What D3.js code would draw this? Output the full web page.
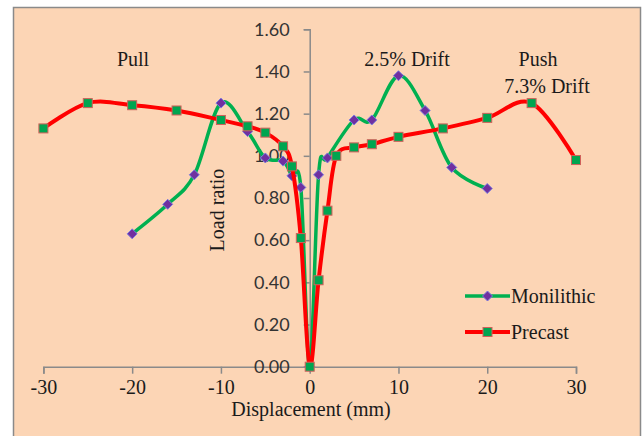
<!DOCTYPE html>
<html>
<head>
<meta charset="utf-8">
<script src="https://cdn.jsdelivr.net/npm/d3@7"></script>
<style>
  html, body { margin: 0; padding: 0; background: #ffffff; }
  svg { display: block; }
</style>
</head>
<body>
<svg id="chart" width="643" height="436"></svg>
<script>
// Load ratio vs displacement for the two specimens
const monoX = [-20, -16, -13, -10, -7, -5, -3, -2, -1, 0, 1, 2, 5, 7, 10, 13, 16, 20];
const monoY = [0.63, 0.77, 0.91, 1.25, 1.115, 0.99, 0.975, 0.905, 0.85, 0.00, 0.91, 0.99, 1.17, 1.17, 1.38, 1.215, 0.945, 0.845];

const precastX = [-30, -25, -20, -15, -10, -7, -5, -3, -2, -1, 0, 1, 2, 3, 5, 7, 10, 15, 20, 25, 30];
const precastY = [1.13, 1.25, 1.24, 1.215, 1.17, 1.14, 1.11, 1.045, 0.95, 0.61, 0.00, 0.41, 0.74, 1.00, 1.04, 1.055, 1.09, 1.13, 1.18, 1.25, 0.98];

const xTicks = [-30, -20, -10, 0, 10, 20, 30];
const yTicks = [0, 0.2, 0.4, 0.6, 0.8, 1.0, 1.2, 1.4, 1.6];

const seriesNames = ["Monilithic", "Precast"];
const annotations = [
  { text: "Pull", x: 133, y: 66 },
  { text: "2.5% Drift", x: 407, y: 66 },
  { text: "Push", x: 538, y: 66 },
  { text: "7.3% Drift", x: 547, y: 93 }
];

const svg = d3.select("#chart");
const serif = "'Liberation Serif', 'Times New Roman', serif";
const sans = "Lato, 'Liberation Sans', sans-serif";

// chart area
svg.append("rect")
  .attr("x", 13.5).attr("y", 7.5)
  .attr("width", 627).attr("height", 440)
  .attr("fill", "#fcd5b5")
  .attr("stroke", "#8a8a8a").attr("stroke-width", 1.5);

const x = d3.scaleLinear().domain([-30, 30]).range([43.4, 576]);
const y = d3.scaleLinear().domain([0, 1.6]).range([366.7, 29.3]);

// x axis along load ratio = 0 (plain hyphen for negatives)
const xAxis = svg.append("g")
  .attr("transform", `translate(0,${y(0)})`)
  .call(d3.axisBottom(x).tickValues(xTicks).tickSize(7).tickPadding(6).tickFormat(d => String(d)));
xAxis.select(".domain").attr("stroke", "#8a8a8a").attr("stroke-width", 1.5);
xAxis.selectAll(".tick line").attr("stroke", "#8a8a8a").attr("stroke-width", 1.5);
xAxis.selectAll(".tick text")
  .attr("font-family", serif).attr("font-size", 20).attr("fill", "#1a1a1a");

// y axis along displacement = 0
const yAxis = svg.append("g")
  .attr("transform", `translate(${x(0)},0)`)
  .call(d3.axisLeft(y).tickValues(yTicks).tickSize(6).tickPadding(14).tickFormat(d => d.toFixed(2)));
yAxis.select(".domain").attr("stroke", "#8a8a8a").attr("stroke-width", 1.5);
yAxis.selectAll(".tick line").attr("stroke", "#8a8a8a").attr("stroke-width", 1.5);
yAxis.selectAll(".tick text")
  .attr("font-family", sans).attr("font-size", 18).attr("fill", "#333");

// axis titles
svg.append("text")
  .attr("x", 311).attr("y", 416)
  .attr("text-anchor", "middle")
  .attr("font-family", serif).attr("font-size", 20).attr("fill", "#1a1a1a")
  .text("Displacement (mm)");
svg.append("text")
  .attr("transform", "translate(224,210) rotate(-90)")
  .attr("text-anchor", "middle")
  .attr("font-family", serif).attr("font-size", 20).attr("fill", "#1a1a1a")
  .text("Load ratio");

// annotations
svg.selectAll(".note").data(annotations).enter().append("text")
  .attr("class", "note")
  .attr("x", d => d.x).attr("y", d => d.y)
  .attr("text-anchor", "middle")
  .attr("font-family", serif).attr("font-size", 20).attr("fill", "#1a1a1a")
  .text(d => d.text);

const line = d3.line()
  .x(d => x(d[0]))
  .y(d => y(d[1]))
  .curve(d3.curveCardinal.tension(0));

const monoPts = monoX.map((v, i) => [v, monoY[i]]);
const precastPts = precastX.map((v, i) => [v, precastY[i]]);

const diamond = (cx, cy, r) => `M${cx},${cy - r}L${cx + r},${cy}L${cx},${cy + r}L${cx - r},${cy}Z`;

function drawDiamond(g, cx, cy) {
  g.append("path")
    .attr("d", diamond(cx, cy, 5))
    .attr("fill", "#7030a0")
    .attr("stroke", "#7b7be0").attr("stroke-width", 1);
}
function drawSquare(g, cx, cy) {
  g.append("rect")
    .attr("x", cx - 4.5).attr("y", cy - 4.5)
    .attr("width", 9).attr("height", 9)
    .attr("fill", "#00a550")
    .attr("stroke", "#d0605a").attr("stroke-width", 1);
}

// Monolithic series
const gMono = svg.append("g");
gMono.append("path")
  .attr("d", line(monoPts))
  .attr("fill", "none").attr("stroke", "#00b050").attr("stroke-width", 3.5)
  .attr("stroke-linejoin", "round");
monoPts.forEach(p => drawDiamond(gMono, x(p[0]), y(p[1])));

// Precast series
const gPre = svg.append("g");
gPre.append("path")
  .attr("d", line(precastPts))
  .attr("fill", "none").attr("stroke", "#ff0000").attr("stroke-width", 4)
  .attr("stroke-linejoin", "round");
precastPts.forEach(p => drawSquare(gPre, x(p[0]), y(p[1])));

// legend
const legend = svg.append("g");
const legendRows = [
  { name: seriesNames[0], color: "#00b050", width: 3.5, marker: drawDiamond, y: 296 },
  { name: seriesNames[1], color: "#ff0000", width: 4, marker: drawSquare, y: 332 }
];
legendRows.forEach(r => {
  legend.append("line")
    .attr("x1", 465).attr("x2", 510).attr("y1", r.y).attr("y2", r.y)
    .attr("stroke", r.color).attr("stroke-width", r.width);
  r.marker(legend, 487.5, r.y);
  legend.append("text")
    .attr("x", 511).attr("y", r.y + 6.5)
    .attr("font-family", serif).attr("font-size", 20).attr("fill", "#1a1a1a")
    .text(r.name);
});
</script>
</body>
</html>
